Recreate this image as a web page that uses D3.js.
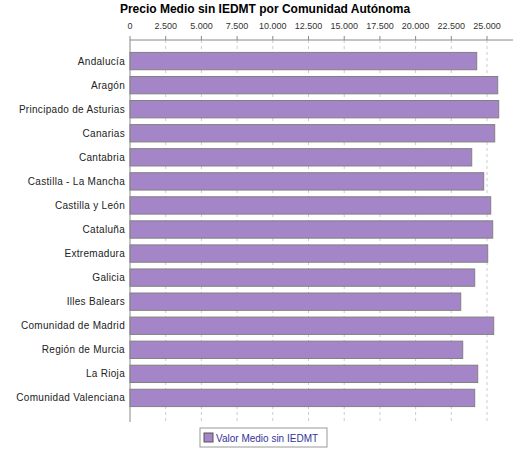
<!DOCTYPE html><html><head><meta charset="utf-8"><script src="https://d3js.org/d3.v7.min.js"></script>
<style>body{margin:0;background:#fff}</style></head><body><script>
const categories=["Andalucía","Aragón","Principado de Asturias","Canarias","Cantabria","Castilla - La Mancha","Castilla y León","Cataluña","Extremadura","Galicia","Illes Balears","Comunidad de Madrid","Región de Murcia","La Rioja","Comunidad Valenciana"];
const values=[24280,25750,25820,25540,23930,24770,25260,25400,25050,24140,23160,25470,23300,24350,24140];
const ticks=[0,2500,5000,7500,10000,12500,15000,17500,20000,22500,25000];
const seriesName="Valor Medio sin IEDMT";
const W=525,H=450,L=130,R=513,T=40,B=422;
const svg=d3.select("body").append("svg").attr("width",W).attr("height",H).style("font-family","'Liberation Sans', Arial, sans-serif");
const x=d3.scaleLinear().domain([0,26820]).range([L,R]);
const y=d3.scaleBand().domain(categories).range([T+4,B-7]).paddingInner(0.28).paddingOuter(0.35);
svg.append("text").attr("x",265).attr("y",13).attr("text-anchor","middle").attr("font-weight","bold").attr("font-size",12).text("Precio Medio sin IEDMT por Comunidad Autónoma");
svg.append("g").selectAll("line").data(ticks.slice(1)).join("line").attr("x1",d=>x(d)).attr("x2",d=>x(d)).attr("y1",T).attr("y2",B).attr("stroke","#ccc").attr("stroke-dasharray","3,3");
svg.append("g").selectAll("text").data(ticks).join("text").attr("x",d=>x(d)).attr("y",29).attr("text-anchor","middle").attr("font-size",9).attr("fill","#333").text(d=>d===0?"0":d3.format(".3f")(d/1000));
svg.append("g").selectAll("line").data(ticks).join("line").attr("x1",d=>x(d)).attr("x2",d=>x(d)).attr("y1",T-4).attr("y2",T).attr("stroke","#888");
svg.append("line").attr("x1",L).attr("x2",R).attr("y1",T).attr("y2",T).attr("stroke","#888");
svg.append("line").attr("x1",L).attr("x2",L).attr("y1",T).attr("y2",B).attr("stroke","#888");
svg.append("g").selectAll("rect").data(values).join("rect").attr("x",L).attr("y",(d,i)=>y(categories[i])).attr("width",d=>x(d)-L).attr("height",y.bandwidth()).attr("fill","#a486c8").attr("stroke","#808080");
svg.append("g").selectAll("text").data(categories).join("text").attr("x",L-5).attr("y",d=>y(d)+y.bandwidth()/2+3.5).attr("text-anchor","end").attr("font-size",10).attr("fill","#222").attr("letter-spacing","0.3").text(d=>d);
const lg=svg.append("g");
lg.append("rect").attr("x",200).attr("y",428).attr("width",127).attr("height",19).attr("fill","#fff").attr("stroke","#999");
lg.append("rect").attr("x",204).attr("y",433).attr("width",9).attr("height",9).attr("fill","#a486c8").attr("stroke","#555");
lg.append("text").attr("x",216).attr("y",442).attr("font-size",10).attr("fill","#333399").text(seriesName);
</script></body></html>
